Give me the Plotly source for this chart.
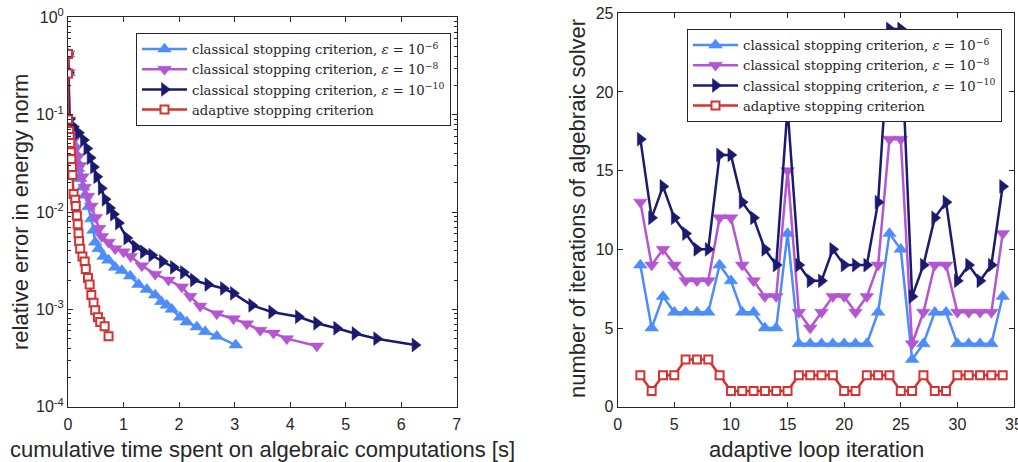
import plotly.graph_objects as go

# ---------------- data: left panel (cumulative time [s], relative error) ----------------
t_blue = [0.0, 0.01, 0.02, 0.05, 0.08, 0.11, 0.14, 0.18, 0.22, 0.27, 0.31, 0.37, 0.42, 0.46, 0.49,
          0.55, 0.64, 0.73, 0.85, 0.97, 1.12, 1.27, 1.42, 1.57, 1.68, 1.78, 1.87, 2.02, 2.14, 2.32,
          2.47, 2.68, 3.02]
err_blue = [0.42, 0.27, 0.085, 0.065, 0.052, 0.042, 0.034, 0.028, 0.022, 0.018, 0.0149, 0.0113,
            0.0085, 0.0065, 0.0049, 0.0042, 0.0035, 0.0032, 0.0027, 0.0025, 0.0022, 0.0018, 0.0016,
            0.0014, 0.0012, 0.0011, 0.001, 0.00083, 0.00074, 0.00066, 0.00059, 0.00053, 0.00043]

t_purple = [0.0, 0.01, 0.02, 0.06, 0.10, 0.14, 0.18, 0.22, 0.26, 0.30, 0.36, 0.42, 0.50, 0.56, 0.61,
            0.73, 0.85, 1.00, 1.13, 1.33, 1.57, 1.81, 2.05, 2.20, 2.38, 2.68, 2.98, 3.22, 3.46, 3.70,
            3.94, 4.48]
err_purple = [0.42, 0.27, 0.088, 0.068, 0.055, 0.045, 0.037, 0.03, 0.023, 0.018, 0.0145, 0.0115,
              0.0088, 0.0068, 0.0056, 0.0049, 0.0042, 0.0039, 0.0035, 0.0028, 0.0023, 0.0020, 0.0017,
              0.00136, 0.00108, 0.0009, 0.0008, 0.00071, 0.00061, 0.00057, 0.0005, 0.00042]

t_navy = [0.0, 0.01, 0.03, 0.10, 0.19, 0.28, 0.34, 0.40, 0.46, 0.52, 0.60, 0.67, 0.75, 0.82, 0.91,
          1.06, 1.21, 1.36, 1.51, 1.70, 1.90, 2.08, 2.26, 2.52, 2.80, 2.98, 3.31, 3.67, 4.15, 4.48,
          4.84, 5.17, 5.56, 6.25]
err_navy = [0.42, 0.27, 0.09, 0.075, 0.065, 0.055, 0.045, 0.036, 0.029, 0.023, 0.0175, 0.0135,
            0.011, 0.0095, 0.0077, 0.0054, 0.0044, 0.0039, 0.0036, 0.0031, 0.0027, 0.0024, 0.0020,
            0.0018, 0.00164, 0.00146, 0.0011, 0.00094, 0.00084, 0.00072, 0.00064, 0.000565, 0.0005,
            0.00043]

t_red = [0.0, 0.0, 0.0, 0.02, 0.03, 0.04, 0.05, 0.06, 0.07, 0.08, 0.10, 0.13, 0.14, 0.16, 0.175,
         0.19, 0.20, 0.22, 0.26, 0.30, 0.32, 0.36, 0.39, 0.42, 0.46, 0.49, 0.54, 0.58, 0.66, 0.73]
err_red = [0.42, 0.265, 0.089, 0.068, 0.059, 0.051, 0.041, 0.035, 0.029, 0.024, 0.0153, 0.0134,
           0.0115, 0.0092, 0.0075, 0.0060, 0.0050, 0.0042, 0.0035, 0.0031, 0.0026, 0.0021, 0.0018,
           0.0014, 0.00117, 0.00098, 0.00083, 0.00074, 0.00067, 0.00053]

# ---------------- data: right panel (adaptive loop iteration, solver iterations) ----------------
loop_iter = list(range(2, 35))
it_blue = [9, 5, 7, 6, 6, 6, 6, 9, 8, 6, 6, 5, 5, 11, 4, 4, 4, 4, 4, 4, 4, 6, 11, 10, 3, 4, 6, 6,
           4, 4, 4, 4, 7]
it_purple = [13, 9, 10, 9, 8, 8, 8, 12, 12, 9, 8, 7, 7, 15, 6, 5, 6, 7, 7, 6, 7, 9, 17, 17, 4, 6,
             9, 9, 6, 6, 6, 6, 11]
it_navy = [17, 12, 14, 12, 11, 10, 10, 16, 16, 13, 12, 10, 9, 19, 9, 8, 8, 10, 9, 9, 9, 13, 24, 24,
           7, 9, 12, 13, 8, 9, 8, 9, 14]
it_red = [2, 1, 2, 2, 3, 3, 3, 2, 1, 1, 1, 1, 1, 1, 2, 2, 2, 2, 1, 1, 2, 2, 2, 1, 1, 2, 1, 1, 2, 2,
          2, 2, 2]

names = ["classical stopping criterion, <i>ε</i> = 10<sup>−6</sup>",
         "classical stopping criterion, <i>ε</i> = 10<sup>−8</sup>",
         "classical stopping criterion, <i>ε</i> = 10<sup>−10</sup>",
         "adaptive stopping criterion"]

BLUE = "#4D8DFA"
PURPLE = "#B455D2"
NAVY = "#1A1A6E"
RED = "#D43333"
AX = "#262626"

fig = go.Figure()


def add_series(x, y, xa, ya, leg):
    specs = [
        (BLUE, "triangle-up", 12),
        (PURPLE, "triangle-down", 12),
        (NAVY, "triangle-right", 12),
        (RED, "square", 8),
    ]
    for i, (xx, yy) in enumerate(zip(x, y)):
        col, sym, sz = specs[i]
        if sym == "square":
            marker = dict(symbol=sym, size=sz, color="white", line=dict(color=col, width=2))
        else:
            marker = dict(symbol=sym, size=sz, color=col, line=dict(color=col, width=0.5))
        fig.add_trace(go.Scatter(
            x=xx, y=yy, mode="lines+markers", name=names[i],
            line=dict(color=col, width=2.5), marker=marker,
            xaxis=xa, yaxis=ya, legend=leg, showlegend=True))


add_series([t_blue, t_purple, t_navy, t_red], [err_blue, err_purple, err_navy, err_red],
           "x", "y", "legend")
add_series([loop_iter] * 4, [it_blue, it_purple, it_navy, it_red], "x2", "y2", "legend2")

W, H = 1018, 462
ML, MR, MT, MB = 68, 4, 13, 55
PW, PH = W - ML - MR, H - MT - MB


def xd(a, b):
    return [max(0.0, (a - ML) / PW), min(1.0, (b - ML) / PW)]


def yd(top, bottom):
    return [max(0.0, (H - MB - bottom) / PH), min(1.0, (H - MB - top) / PH)]


def px(x):
    return (x - ML) / PW


def py(y):
    return (H - MB - y) / PH


tickfont = dict(family="Liberation Sans, Arial", size=16, color=AX)
titlefont = dict(family="Liberation Sans, Arial", size=22, color=AX)

minor_vals = [m * 10 ** k for k in range(-4, 0) for m in range(2, 10)]

common = dict(showline=True, linecolor=AX, linewidth=1, mirror="ticks", ticks="inside",
              tickcolor=AX, ticklen=5, tickfont=tickfont, showgrid=False, zeroline=False,
              automargin=False, ticklabeloverflow="allow")

legfont = dict(family="DejaVu Serif", size=13.2, color=AX)

titles = [
    ("cumulative time spent on algebraic computations [s]", 262, 449, 0),
    ("relative error in energy norm", 20, 212, -90),
    ("adaptive loop iteration", 816, 449, 0),
    ("number of iterations of algebraic solver", 577, 209, -90),
]
annotations = [dict(text=t, x=px(x), y=py(y), xref="paper", yref="paper", showarrow=False,
                    xanchor="center", yanchor="middle", textangle=a, font=titlefont)
               for t, x, y, a in titles]

fig.update_layout(
    width=W, height=H, margin=dict(l=ML, r=MR, t=MT, b=MB, autoexpand=False),
    paper_bgcolor="white", plot_bgcolor="white",
    annotations=annotations,
    xaxis=dict(domain=xd(67.7, 456.7), range=[0, 7], tickvals=list(range(0, 8)),
               ticklabelstandoff=3, anchor="y", **common),
    yaxis=dict(domain=yd(17.3, 406.7), type="log", range=[-4, 0],
               tickvals=[1e-4, 1e-3, 1e-2, 1e-1, 1],
               ticktext=["10<sup>-4</sup>", "10<sup>-3</sup>", "10<sup>-2</sup>",
                         "10<sup>-1</sup>", "10<sup>0</sup>"],
               minor=dict(tickvals=minor_vals, ticks="inside", ticklen=3, tickcolor=AX),
               anchor="x", **common),
    xaxis2=dict(domain=xd(617.7, 1014), range=[0, 35], tickvals=list(range(0, 36, 5)),
                ticklabelstandoff=3, anchor="y2", **common),
    yaxis2=dict(domain=yd(13.3, 406.7), range=[0, 25],
                tickvals=list(range(0, 26, 5)), anchor="x2", **common),
    legend=dict(x=136 / W, y=1 - 33 / H, xref="container", yref="container", xanchor="left",
                yanchor="top", bgcolor="white", bordercolor=AX, borderwidth=1, itemwidth=45,
                tracegroupgap=0, font=legfont),
    legend2=dict(x=687 / W, y=1 - 29 / H, xref="container", yref="container", xanchor="left",
                 yanchor="top", bgcolor="white", bordercolor=AX, borderwidth=1, itemwidth=45,
                 tracegroupgap=0, font=legfont),
)

fig.write_html("out.html", config={"displayModeBar": False},
               post_script="document.body.style.margin='0';")
